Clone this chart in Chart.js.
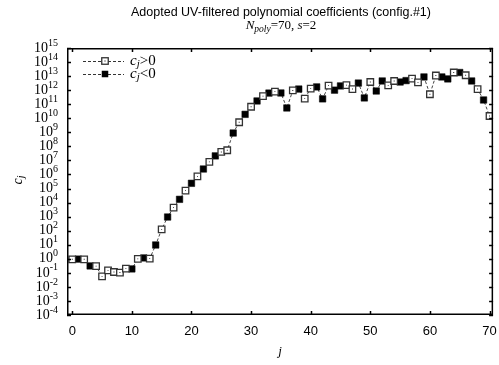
<!DOCTYPE html>
<html>
<head>
<meta charset="utf-8">
<script src="https://cdn.jsdelivr.net/npm/chart.js@4.4.1/dist/chart.umd.min.js"></script>
<style>
  html, body { margin: 0; padding: 0; background: #fff; }
  #wrap { width: 499px; height: 365px; }
</style>
</head>
<body>
<div id="wrap"><canvas id="grafic" width="499" height="365"></canvas></div>
<script>
// index j of each coefficient
const J = [0, 1, 2, 3, 4, 5, 6, 7, 8, 9,
           10, 11, 12, 13, 14, 15, 16, 17, 18, 19,
           20, 21, 22, 23, 24, 25, 26, 27, 28, 29,
           30, 31, 32, 33, 34, 35, 36, 37, 38, 39,
           40, 41, 42, 43, 44, 45, 46, 47, 48, 49,
           50, 51, 52, 53, 54, 55, 56, 57, 58, 59,
           60, 61, 62, 63, 64, 65, 66, 67, 68, 69, 70];

// signed coefficients c_j (sign from marker type)
const COEF = [0.92, -0.95, 0.92, -0.31, 0.30, 0.056, 0.15, 0.115, 0.105, 0.20,
              -0.19, 0.98, -1.15, 1.03, -9.6, 125, -940, 4400, -1.7e4, 7.1e4,
              -2.35e5, 7.4e5, -2.45e6, 7.8e6, -2.1e7, 4.0e7, 5.3e7, -8.9e8, 5.2e9, -1.9e10,
              6.6e10, -1.7e11, 3.8e11, -6.2e11, 7.9e11, -6.3e11, -5.4e10, 9.5e11, -1.2e12, 2.5e11,
              1.3e12, -1.7e12, -2.4e11, 2.1e12, -1.0e12, -2.0e12, 2.3e12, 1.2e12, -3.2e12, -2.8e11,
              3.8e12, -8.7e11, -4.5e12, 2.2e12, 4.5e12, -3.8e12, -4.8e12, 6.7e12, 3.6e12, -8.7e12,
              5.1e11, 1.1e13, -8.7e12, -6.3e12, 1.8e13, -1.8e13, 1.15e13, -4.5e12, 1.2e12, -2.0e11,
              1.45e10];

const X_TICKS = [0, 10, 20, 30, 40, 50, 60, 70];
const Y_EXP = [-4, -3, -2, -1, 0, 1, 2, 3, 4, 5, 6, 7, 8, 9, 10, 11, 12, 13, 14, 15];

const SERIF = '"Liberation Serif", "DejaVu Serif", serif';
const SANS = '"Liberation Sans", Arial, sans-serif';

const allPts = J.map((j, i) => ({ x: j, y: Math.abs(COEF[i]) }));
const posPts = J.filter((j, i) => COEF[i] > 0).map(j => ({ x: j, y: COEF[j] }));
const negPts = J.filter((j, i) => COEF[i] < 0).map(j => ({ x: j, y: -COEF[j] }));

// draws a run of text pieces (font / vertical shift) starting at x
function rich(ctx, x, y, parts, align) {
    ctx.textBaseline = 'middle';
    ctx.textAlign = 'left';
    let w = 0;
    parts.forEach(p => { ctx.font = p.f; w += ctx.measureText(p.t).width; });
    if (align === 'center') x -= w / 2;
    if (align === 'right') x -= w;
    parts.forEach(p => {
        ctx.font = p.f;
        ctx.fillText(p.t, x, y + (p.dy || 0));
        x += ctx.measureText(p.t).width;
    });
}

function openSquare(ctx, x, y) {
    ctx.fillStyle = '#fff';
    ctx.strokeStyle = '#333';
    ctx.lineWidth = 1.3;
    ctx.fillRect(x - 3.25, y - 3.25, 6.5, 6.5);
    ctx.strokeRect(x - 3.25, y - 3.25, 6.5, 6.5);
    ctx.fillStyle = '#000';
    ctx.fillRect(x - 0.5, y - 0.5, 1, 1);
}

// frame, inward ticks, y labels, legend and titles (gnuplot look)
const gnuFrame = {
    id: 'gnuFrame',
    afterDraw(chart) {
        const { ctx, chartArea: a, scales: { x, y } } = chart;
        ctx.save();
        ctx.strokeStyle = '#000';
        ctx.lineWidth = 1.5;
        ctx.setLineDash([]);
        ctx.strokeRect(a.left + 0.75, a.top + 0.75, a.width - 1.5, a.height - 1.5);
        ctx.beginPath();
        X_TICKS.forEach(v => {
            const px = Math.round(x.getPixelForValue(v)) + 0.5;
            ctx.moveTo(px, a.bottom); ctx.lineTo(px, a.bottom - 4);
            ctx.moveTo(px, a.top); ctx.lineTo(px, a.top + 4);
        });
        Y_EXP.forEach(e => {
            const py = Math.round(y.getPixelForValue(Math.pow(10, e))) + 0.5;
            ctx.moveTo(a.left, py); ctx.lineTo(a.left + 4, py);
            ctx.moveTo(a.right, py); ctx.lineTo(a.right - 4, py);
        });
        ctx.stroke();

        // y tick labels 10^e
        ctx.fillStyle = '#000';
        Y_EXP.forEach(e => {
            const py = y.getPixelForValue(Math.pow(10, e));
            rich(ctx, 58, py, [
                { t: '10', f: '14px ' + SERIF },
                { t: String(e), f: '10px ' + SERIF, dy: -5 }
            ], 'right');
        });

        // axis titles
        rich(ctx, (a.left + a.right) / 2, 352, [{ t: 'j', f: 'italic 13px ' + SERIF }], 'center');
        ctx.save();
        ctx.translate(18, 180);
        ctx.rotate(-Math.PI / 2);
        rich(ctx, 0, 0, [
            { t: 'c', f: 'italic 14px ' + SERIF },
            { t: 'j', f: 'italic 10px ' + SERIF, dy: 3 }
        ], 'center');
        ctx.restore();

        // titles
        ctx.fillStyle = '#000';
        rich(ctx, 281, 13, [{ t: 'Adopted UV-filtered polynomial coefficients (config.#1)', f: '12.5px ' + SANS }], 'center');
        rich(ctx, 281, 26, [
            { t: 'N', f: 'italic 13px ' + SERIF },
            { t: 'poly', f: 'italic 9.5px ' + SERIF, dy: 3 },
            { t: '=70, ', f: '13px ' + SERIF },
            { t: 's', f: 'italic 13px ' + SERIF },
            { t: '=2', f: '13px ' + SERIF }
        ], 'center');

        // legend
        const rows = [{ y: 61, t: '>0', open: true }, { y: 74, t: '<0', open: false }];
        rows.forEach(r => {
            ctx.strokeStyle = '#333';
            ctx.lineWidth = 1;
            ctx.setLineDash([3, 2]);
            ctx.beginPath();
            ctx.moveTo(83, r.y + 0.5); ctx.lineTo(124, r.y + 0.5);
            ctx.stroke();
            ctx.setLineDash([]);
            if (r.open) openSquare(ctx, 105, r.y);
            else { ctx.fillStyle = '#000'; ctx.fillRect(101.75, r.y - 3.25, 6.5, 6.5); }
            ctx.fillStyle = '#000';
            rich(ctx, 130, r.y, [
                { t: 'c', f: 'italic 15px ' + SERIF },
                { t: 'j', f: 'italic 11px ' + SERIF, dy: 3 },
                { t: r.t, f: '15px ' + SERIF }
            ]);
        });
        ctx.restore();
    }
};

new Chart(document.getElementById('grafic'), {
    type: 'scatter',
    data: {
        datasets: [
            { label: 'dots', data: posPts, order: 0, pointStyle: 'rect', pointRadius: 0.6,
              backgroundColor: '#000', borderWidth: 0 },
            { label: 'c_j>0', data: posPts, order: 1, pointStyle: 'rect', pointRadius: 4.6,
              backgroundColor: '#fff', borderColor: '#333', borderWidth: 1.3 },
            { label: 'c_j<0', data: negPts, order: 2, pointStyle: 'rect', pointRadius: 4.6,
              backgroundColor: '#000', borderColor: '#000', borderWidth: 0.5 },
            { label: '|c_j|', data: allPts, order: 3, showLine: true, pointRadius: 0,
              borderColor: '#444', borderWidth: 1, borderDash: [3, 2] }
        ]
    },
    options: {
        responsive: false,
        devicePixelRatio: 1,
        animation: false,
        layout: { padding: { top: 48, right: 1, left: 0, bottom: 0 } },
        plugins: { legend: { display: false }, tooltip: { enabled: false } },
        scales: {
            x: {
                type: 'linear', min: -0.88, max: 70.6,
                grid: { display: false, drawTicks: false },
                border: { display: false },
                afterBuildTicks: s => { s.ticks = X_TICKS.map(v => ({ value: v })); },
                afterFit: s => { s.height = 50; s.paddingLeft = 0; s.paddingRight = 0; },
                ticks: { color: '#000', font: { family: SANS, size: 13 }, padding: 9, maxRotation: 0, autoSkip: false }
            },
            y: {
                type: 'logarithmic', min: 1e-4, max: 1e15,
                grid: { display: false, drawTicks: false },
                border: { display: false },
                afterBuildTicks: s => { s.ticks = Y_EXP.map(e => ({ value: Math.pow(10, e) })); },
                afterFit: s => { s.width = 67; },
                ticks: { display: false }
            }
        }
    },
    plugins: [gnuFrame]
});
</script>
</body>
</html>
